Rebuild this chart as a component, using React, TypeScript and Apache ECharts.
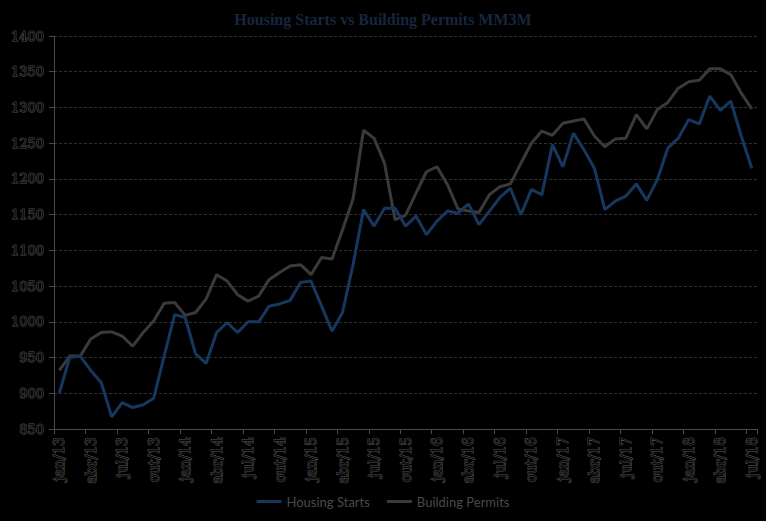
import React, { useEffect, useRef } from "react";
import * as echarts from "echarts";

const monthNames = ["jan", "fev", "mar", "abr", "mai", "jun", "jul", "ago", "set", "out", "nov", "dez"];
const years = ["13", "14", "15", "16", "17", "18"];
const lastMonthCount = 7; // jan..jul 2018

const categories: string[] = [];
years.forEach((y, yi) => {
  const n = yi === years.length - 1 ? lastMonthCount : 12;
  for (let m = 0; m < n; m++) categories.push(`${monthNames[m]}/${y}`);
});

const housingStarts = [
  900, 950, 952, 932, 915, 867, 887, 880, 884, 893, 952, 1010,
  1006, 955, 942, 985, 999, 985, 1000, 1000, 1022, 1025, 1030, 1055,
  1057, 1022, 987, 1013, 1080, 1157, 1134, 1159, 1159, 1134, 1148, 1122,
  1141, 1155, 1152, 1165, 1136, 1155, 1174, 1187, 1150, 1185, 1178, 1248,
  1217, 1264, 1241, 1215, 1157, 1169, 1176, 1193, 1170, 1199, 1243, 1257,
  1283, 1277, 1316, 1296, 1309, 1260, 1215,
];

const buildingPermits = [
  932, 952, 952, 976, 985, 986, 980, 966, 985, 1001, 1026, 1027,
  1009, 1013, 1032, 1066, 1057, 1038, 1029, 1036, 1059, 1069, 1078, 1080,
  1066, 1090, 1088, 1129, 1172, 1268, 1257, 1222, 1143, 1149, 1180, 1210,
  1217, 1192, 1158, 1155, 1153, 1178, 1189, 1193, 1222, 1250, 1267, 1261,
  1278, 1281, 1284, 1260, 1245, 1256, 1257, 1290, 1270, 1297, 1307, 1327,
  1336, 1338, 1354, 1354, 1346, 1320, 1298,
];

const seriesNames = ["Housing Starts", "Building Permits"];
const titleText = "Housing Starts vs Building Permits MM3M";

export default function App() {
  const ref = useRef<HTMLDivElement>(null);

  useEffect(() => {
    if (!ref.current) return;
    const chart = echarts.init(ref.current, undefined, { renderer: "svg" });
    const labelStyle = {
      color: "#050505",
      textBorderColor: "#555555",
      textBorderWidth: 1,
      fontFamily: "DejaVu Serif",
      fontSize: 13,
    };
    chart.setOption({
      animation: false,
      backgroundColor: "#000000",
      title: {
        text: titleText,
        left: "center",
        top: 6,
        textStyle: {
          color: "#16263f",
          fontFamily: "Liberation Serif",
          fontWeight: "bold",
          fontSize: 16,
        },
      },
      legend: {
        bottom: 8,
        left: "center",
        icon: "rect",
        itemWidth: 25,
        itemHeight: 3,
        itemGap: 17,
        textStyle: {
          color: "#4a4a4a",
          fontFamily: "Lato",
          fontSize: 13,
        },
        data: seriesNames,
      },
      grid: { left: 54, right: 9, top: 36, bottom: 92, containLabel: false },
      xAxis: {
        type: "category",
        data: categories,
        boundaryGap: true,
        axisLine: { show: true, lineStyle: { color: "#4a4a4a", width: 1 } },
        axisTick: { show: true, interval: 2, length: 5, lineStyle: { color: "#4a4a4a" } },
        axisLabel: { ...labelStyle, fontSize: 14, interval: 2, rotate: 90, margin: 8 },
        splitLine: { show: false },
      },
      yAxis: {
        type: "value",
        min: 850,
        max: 1400,
        interval: 50,
        axisLine: { show: true, lineStyle: { color: "#4a4a4a", width: 1 } },
        axisTick: { show: true, length: 5, lineStyle: { color: "#4a4a4a" } },
        axisLabel: { ...labelStyle, margin: 10, formatter: (v: number) => String(v) },
        splitLine: { show: true, lineStyle: { color: "#303030", type: [3, 2], width: 1 } },
      },
      series: [
        {
          name: seriesNames[0],
          type: "line",
          data: housingStarts,
          symbol: "none",
          lineStyle: { color: "#17375e", width: 3 },
          itemStyle: { color: "#17375e" },
          z: 3,
        },
        {
          name: seriesNames[1],
          type: "line",
          data: buildingPermits,
          symbol: "none",
          lineStyle: { color: "#3a3a3a", width: 3 },
          itemStyle: { color: "#3a3a3a" },
          z: 2,
        },
      ],
    });
    return () => chart.dispose();
  }, []);

  return <div ref={ref} style={{ width: 766, height: 521, position: "absolute", left: 0, top: 0 }} />;
}
